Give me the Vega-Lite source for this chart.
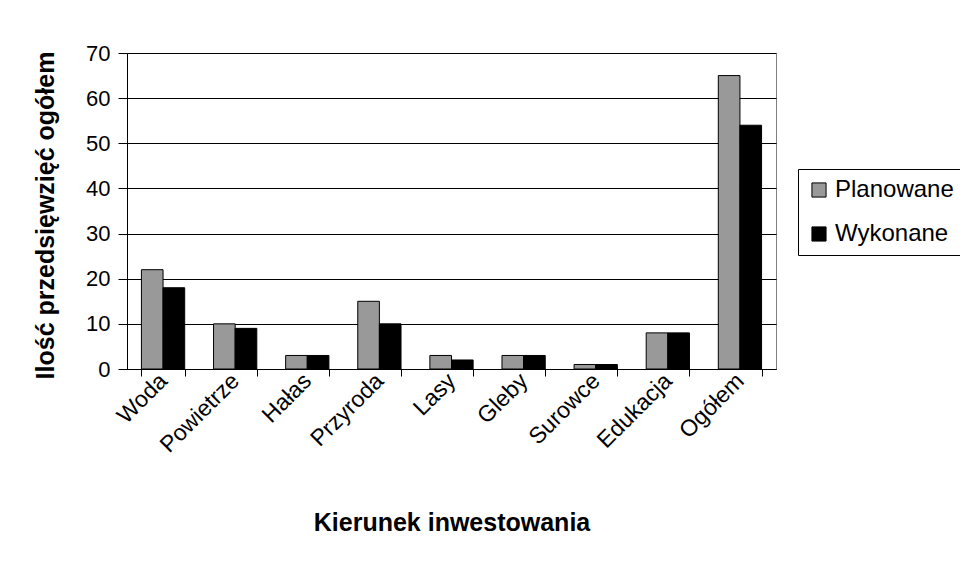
{
  "$schema": "https://vega.github.io/schema/vega-lite/v6.json",
  "autosize": "none",
  "width": 649,
  "height": 316,
  "padding": {"left": 127, "top": 53, "right": 184, "bottom": 195},
  "background": "white",
  "data": {
    "values": [
      {"kierunek": "Woda", "seria": "Planowane", "ilosc": 22},
      {"kierunek": "Woda", "seria": "Wykonane", "ilosc": 18},
      {"kierunek": "Powietrze", "seria": "Planowane", "ilosc": 10},
      {"kierunek": "Powietrze", "seria": "Wykonane", "ilosc": 9},
      {"kierunek": "Hałas", "seria": "Planowane", "ilosc": 3},
      {"kierunek": "Hałas", "seria": "Wykonane", "ilosc": 3},
      {"kierunek": "Przyroda", "seria": "Planowane", "ilosc": 15},
      {"kierunek": "Przyroda", "seria": "Wykonane", "ilosc": 10},
      {"kierunek": "Lasy", "seria": "Planowane", "ilosc": 3},
      {"kierunek": "Lasy", "seria": "Wykonane", "ilosc": 2},
      {"kierunek": "Gleby", "seria": "Planowane", "ilosc": 3},
      {"kierunek": "Gleby", "seria": "Wykonane", "ilosc": 3},
      {"kierunek": "Surowce", "seria": "Planowane", "ilosc": 1},
      {"kierunek": "Surowce", "seria": "Wykonane", "ilosc": 1},
      {"kierunek": "Edukacja", "seria": "Planowane", "ilosc": 8},
      {"kierunek": "Edukacja", "seria": "Wykonane", "ilosc": 8},
      {"kierunek": "Ogółem", "seria": "Planowane", "ilosc": 65},
      {"kierunek": "Ogółem", "seria": "Wykonane", "ilosc": 54}
    ]
  },
  "mark": {"type": "bar", "stroke": "black", "strokeWidth": 1},
  "encoding": {
    "x": {
      "field": "kierunek",
      "type": "nominal",
      "sort": ["Woda", "Powietrze", "Hałas", "Przyroda", "Lasy", "Gleby", "Surowce", "Edukacja", "Ogółem"],
      "scale": {"paddingInner": 0.4, "paddingOuter": 0.2},
      "axis": {
        "title": "Kierunek inwestowania",
        "labelAngle": -45,
        "labelAlign": "right",
        "labelBaseline": "middle",
        "labelPadding": 1,
        "labelFontSize": 23,
        "labelFont": "Liberation Sans",
        "labelColor": "black",
        "tickBand": "extent",
        "tickSize": 7,
        "tickColor": "black",
        "domainColor": "black",
        "titleFont": "Liberation Sans",
        "titleFontSize": 25,
        "titleFontWeight": "bold",
        "titleColor": "black",
        "titleBaseline": "middle",
        "titleY": 153,
        "grid": false
      }
    },
    "xOffset": {
      "field": "seria",
      "type": "nominal",
      "scale": {"paddingInner": 0, "paddingOuter": 0}
    },
    "y": {
      "field": "ilosc",
      "type": "quantitative",
      "scale": {"domain": [0, 70], "nice": false},
      "axis": {
        "title": "Ilość przedsięwzięć ogółem",
        "values": [0, 10, 20, 30, 40, 50, 60, 70],
        "labelFontSize": 22,
        "labelFont": "Liberation Sans",
        "labelColor": "black",
        "labelPadding": 8,
        "tickSize": 9,
        "tickColor": "black",
        "domainColor": "black",
        "grid": true,
        "gridColor": "black",
        "gridWidth": 1,
        "gridOpacity": 1,
        "titleFont": "Liberation Sans",
        "titleFontSize": 25,
        "titleFontWeight": "bold",
        "titleColor": "black",
        "titleAngle": -90,
        "titleAlign": "center",
        "titleBaseline": "middle",
        "titleX": -82,
        "titleY": 162
      }
    },
    "fill": {
      "field": "seria",
      "type": "nominal",
      "scale": {"domain": ["Planowane", "Wykonane"], "range": ["#999999", "#000000"]},
      "legend": {
        "title": null,
        "orient": "none",
        "legendX": 671,
        "legendY": 116,
        "strokeColor": "black",
        "padding": 9,
        "symbolType": "square",
        "symbolSize": 200,
        "symbolStrokeColor": "black",
        "symbolStrokeWidth": 1,
        "labelFontSize": 24,
        "labelFont": "Liberation Sans",
        "labelColor": "black",
        "labelOffset": 4,
        "rowPadding": 20
      }
    }
  },
  "config": {
    "view": {"stroke": "#808080", "strokeWidth": 1}
  }
}
